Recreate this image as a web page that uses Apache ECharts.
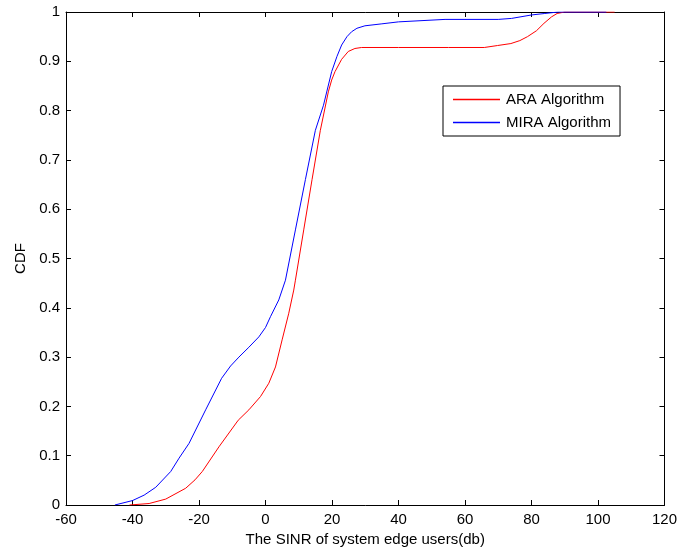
<!DOCTYPE html>
<html>
<head>
<meta charset="utf-8">
<script src="https://cdn.jsdelivr.net/npm/echarts@6/dist/echarts.min.js"></script>
<style>
html,body{margin:0;padding:0;background:#fff;}
#chart{width:680px;height:552px;}
</style>
</head>
<body>
<div id="chart"></div>
<script>
const seriesNames = ['ARA Algorithm', 'MIRA Algorithm'];
const araX = [-40.9, -35, -30, -24, -21.2, -19, -14, -8.2, -5, -1.5, 1, 3, 5, 7, 8.5, 9, 11.5, 14, 16.5, 18.9, 19.9, 20.9, 22.9, 24.9, 26.9, 28.9, 40, 55, 65.8, 69.8, 73.8, 76.5, 78.8, 81.5, 83.75, 86, 87.7, 90, 105];
const araY = [0, 0.003, 0.012, 0.034, 0.051, 0.068, 0.118, 0.172, 0.193, 0.22, 0.247, 0.28, 0.335, 0.389, 0.436, 0.456, 0.558, 0.66, 0.76, 0.838, 0.862, 0.879, 0.904, 0.92, 0.926, 0.928, 0.928, 0.928, 0.928, 0.932, 0.936, 0.942, 0.95, 0.962, 0.977, 0.99, 0.997, 1, 1];
const miraX = [-45.3, -40, -36.5, -33, -28.5, -26, -23, -18, -13.2, -10.5, -8, -5, -2, 0, 1.5, 4, 6, 9, 12, 15, 17.45, 19.9, 21.5, 22.9, 24.5, 25.9, 27.5, 29.9, 35, 40, 54, 70, 74, 80, 84, 88, 102.5];
const miraY = [0, 0.009, 0.02, 0.036, 0.068, 0.095, 0.125, 0.193, 0.257, 0.282, 0.30, 0.32, 0.341, 0.36, 0.382, 0.416, 0.456, 0.558, 0.66, 0.76, 0.811, 0.879, 0.91, 0.933, 0.95, 0.96, 0.967, 0.972, 0.976, 0.98, 0.985, 0.985, 0.987, 0.994, 0.997, 1, 1];
const xMin = -60, xMax = 120, xStep = 20;
const yMin = 0, yMax = 1, yStep = 0.1;
const xTitle = 'The SINR of system edge users(db)';
const yTitle = 'CDF';

const zip = (xs, ys) => xs.map((x, i) => [x, ys[i]]);
const font = 'Liberation Sans, Arial, sans-serif';
const axisCommon = {
  axisLine: {show: true, onZero: false, lineStyle: {color: '#000', width: 1}},
  axisTick: {show: true, inside: true, length: 5, lineStyle: {color: '#000'}},
  splitLine: {show: false}
};
const chart = echarts.init(document.getElementById('chart'), null, {renderer: 'canvas'});
chart.setOption({
  animation: false,
  backgroundColor: '#fff',
  grid: {left: 66, right: 12, top: 12, bottom: 47, containLabel: false},
  legend: {
    orient: 'vertical', left: 443, top: 86,
    data: seriesNames,
    icon: 'rect',
    backgroundColor: '#fff', borderColor: '#000', borderWidth: 1, borderRadius: 0,
    padding: [5, 9, 5, 10], itemGap: 6, itemWidth: 47, itemHeight: 1.5,
    textStyle: {fontFamily: font, fontSize: 15, lineHeight: 17, color: '#000', padding: [0, 0, 0, 1]}
  },
  xAxis: [
    Object.assign({type: 'value', min: xMin, max: xMax, interval: xStep, position: 'bottom',
      name: xTitle, nameLocation: 'middle', nameGap: 26,
      nameTextStyle: {fontFamily: font, fontSize: 15, color: '#000'},
      axisLabel: {fontFamily: font, fontSize: 15, color: '#000', margin: 7}}, axisCommon),
    Object.assign({type: 'value', min: xMin, max: xMax, interval: xStep, position: 'top',
      axisLabel: {show: false}}, axisCommon)
  ],
  yAxis: [
    Object.assign({type: 'value', min: yMin, max: yMax, interval: yStep, position: 'left',
      name: yTitle, nameLocation: 'middle', nameGap: 37, nameRotate: 90,
      nameTextStyle: {fontFamily: font, fontSize: 15, color: '#000'},
      axisLabel: {fontFamily: font, fontSize: 15, color: '#000', margin: 6,
        formatter: v => String(+v.toFixed(1))}}, axisCommon),
    Object.assign({type: 'value', min: yMin, max: yMax, interval: yStep, position: 'right',
      axisLabel: {show: false}}, axisCommon)
  ],
  series: [
    {name: seriesNames[0], type: 'line', data: zip(araX, araY), symbol: 'none', showSymbol: false,
     smooth: false, color: '#ff0000', lineStyle: {width: 1, color: '#ff0000'}, z: 2},
    {name: seriesNames[1], type: 'line', data: zip(miraX, miraY), symbol: 'none', showSymbol: false,
     smooth: false, color: '#0000ff', lineStyle: {width: 1, color: '#0000ff'}, z: 3}
  ]
});
</script>
</body>
</html>
